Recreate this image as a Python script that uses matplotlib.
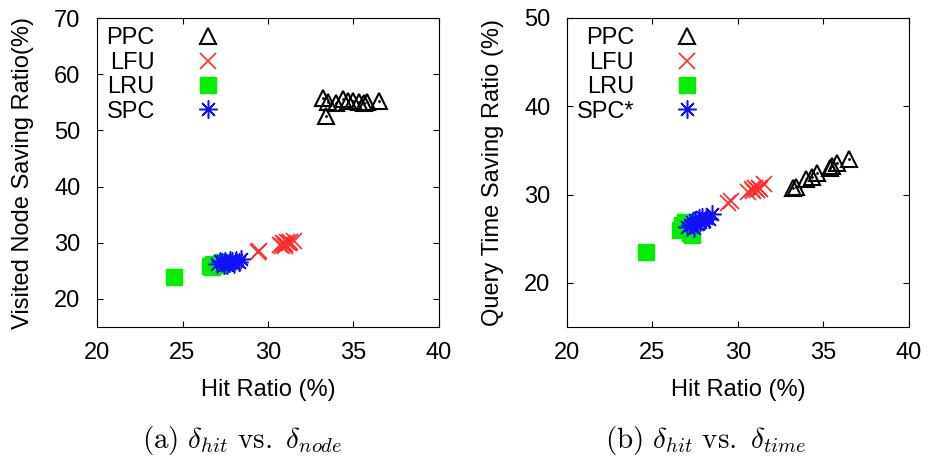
import numpy as np
import matplotlib
matplotlib.use("Agg")
import matplotlib.pyplot as plt

# (a) hit ratio vs visited node saving ratio
ppc_hit_a = [33.2, 33.4, 33.5, 34.0, 34.4, 34.7, 35.0, 35.3, 35.6, 35.8, 36.5]
ppc_node = [55.8, 52.5, 55.0, 54.8, 55.5, 55.2, 55.3, 55.0, 54.8, 55.0, 55.3]
lfu_hit_a = [29.4, 29.5, 30.7, 30.8, 30.9, 31.0, 31.0, 31.1, 31.2, 31.3, 31.5]
lfu_node = [28.3, 28.5, 29.6, 29.4, 30.0, 29.8, 29.5, 30.2, 29.9, 30.1, 30.3]
lru_hit_a = [24.5, 26.6, 26.7, 26.8, 27.1, 27.3]
lru_node = [23.9, 25.9, 25.7, 26.3, 26.1, 26.6]
spc_hit_a = [27.0, 27.2, 27.3, 27.4, 27.5, 27.6, 27.7, 27.8, 27.9, 28.0, 28.1, 28.3, 28.4]
spc_node = [26.2, 26.7, 26.5, 26.0, 26.8, 26.1, 26.4, 27.0, 26.7, 26.3, 26.9, 26.6, 27.1]

# (b) hit ratio vs query time saving ratio
ppc_hit_b = [33.2, 33.4, 34.0, 34.3, 34.6, 35.4, 35.5, 35.8, 36.5]
ppc_time = [30.7, 30.9, 31.8, 32.0, 32.4, 33.0, 33.2, 33.6, 34.0]
lfu_hit_b = [29.4, 29.6, 30.6, 30.8, 30.9, 31.0, 31.1, 31.2, 31.3, 31.5]
lfu_time = [29.1, 29.3, 30.3, 30.6, 30.4, 30.7, 30.5, 30.8, 30.6, 31.2]
lru_hit_b = [24.6, 26.6, 26.7, 26.9, 27.2, 27.3]
lru_time = [23.5, 26.0, 26.6, 26.9, 25.6, 25.4]
spc_hit_b = [27.0, 27.2, 27.3, 27.4, 27.5, 27.6, 27.7, 27.8, 27.9, 28.0, 28.1, 28.3, 28.5]
spc_time = [26.3, 26.6, 26.9, 26.2, 27.1, 26.7, 27.3, 26.9, 27.5, 27.0, 27.4, 27.2, 27.8]

xticks = [20, 25, 30, 35, 40]

plt.rcParams['font.family'] = ['Liberation Sans', 'DejaVu Sans']
plt.rcParams['mathtext.fontset'] = 'cm'

fig = plt.figure(figsize=(9.29, 4.61), dpi=100)
W, H = 929, 461
ax1 = fig.add_axes([97 / W, (H - 327) / H, 342 / W, 309 / H])
ax2 = fig.add_axes([567 / W, (H - 327) / H, 342 / W, 309 / H])

star = (8, 2, 0)


def draw(ax, data, spc_label):
    (ph, pv), (fh, fv), (rh, rv), (sh, sv) = data
    ax.plot(ph, pv, ls='none', marker='^', ms=11, mfc='none', mec='black', mew=1.5, label='PPC')
    ax.plot(ph, pv, ls='none', marker='.', ms=2, color='black')
    ax.plot(fh, fv, ls='none', marker='x', ms=11, color='#ff2a2a', mew=1.2, label='LFU')
    ax.plot(rh, rv, ls='none', marker='s', ms=12, color='#00ee00', label='LRU')
    ax.plot(sh, sv, ls='none', marker=star, ms=13, color='#1010ff', mew=1.1, label=spc_label)
    ax.set_xlim(20, 40)
    ax.set_xticks(xticks)
    ax.tick_params(direction='in', top=True, right=True, length=4, labelsize=17)
    ax.tick_params(axis='x', pad=11)
    ax.tick_params(axis='y', pad=12)
    ax.set_xlabel('Hit Ratio (%)', fontsize=17)
    ax.xaxis.set_label_coords(0.5, -0.168)
    ax.yaxis.set_label_coords(-0.184, 0.5)
    ax.legend(loc='upper left', markerfirst=False, frameon=False, fontsize=17,
              handletextpad=1.6, labelspacing=0.1, borderaxespad=0.0,
              handlelength=1.3, bbox_to_anchor=(0.0, 1.0))


draw(ax1, [(ppc_hit_a, ppc_node), (lfu_hit_a, lfu_node), (lru_hit_a, lru_node),
           (spc_hit_a, spc_node)], 'SPC')
ax1.set_ylim(15, 70)
ax1.set_yticks([20, 30, 40, 50, 60, 70])
ax1.set_ylabel('Visited Node Saving Ratio(%)', fontsize=17)

draw(ax2, [(ppc_hit_b, ppc_time), (lfu_hit_b, lfu_time), (lru_hit_b, lru_time),
           (spc_hit_b, spc_time)], 'SPC*')
ax2.set_ylim(15, 50)
ax2.set_yticks([20, 30, 40, 50])
ax2.set_ylabel('Query Time Saving Ratio (%)', fontsize=17)

fig.text(242 / W, 1 - 448 / H, r'$\mathrm{(a)}\ \delta_{hit}\ \mathrm{vs.}\ \delta_{node}$',
         ha='center', va='baseline', fontsize=21)
fig.text(706 / W, 1 - 448 / H, r'$\mathrm{(b)}\ \delta_{hit}\ \mathrm{vs.}\ \delta_{time}$',
         ha='center', va='baseline', fontsize=21)

fig.savefig('out.png', dpi=100)
